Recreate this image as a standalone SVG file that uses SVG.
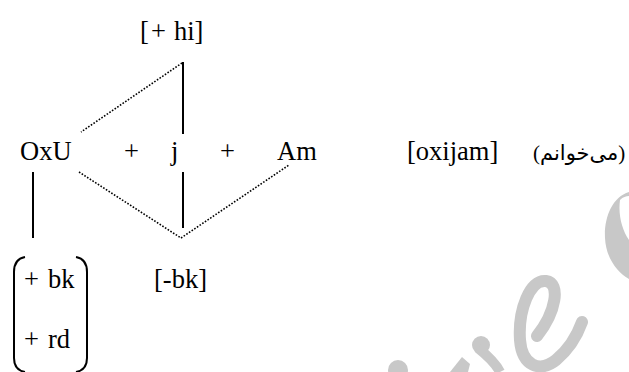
<svg xmlns="http://www.w3.org/2000/svg" width="629" height="372" viewBox="0 0 629 372">
<style>
.ln{stroke:#000;stroke-width:2;fill:none}
.dt{stroke:#000;stroke-width:1.6;fill:none;stroke-dasharray:1.6 1.6}
</style>
<rect width="629" height="372" fill="#fff"/>
<g id="watermark" fill="#c8c8c8">
<path d="M629,192 C612,197 604,218 605,238 C606,258 617,272 629,279 L629,240 C622,230 618,215 620,200 C623,197 626,196 629,196 Z"/>
<path d="M537,336 C556,312 561,283 546,281 C530,279 518,310 520,340 C522,366 540,373 556,360 C568,350 577,336 582,322" fill="none" stroke="#c8c8c8" stroke-width="12" stroke-linecap="round"/>
<circle cx="481" cy="345" r="9"/>
<path d="M478,348 C488,356 496,364 500,372" fill="none" stroke="#c8c8c8" stroke-width="10"/>
<polygon points="450,372 462,357 470,364 468,372"/>
<circle cx="398" cy="370" r="10"/>
</g>
<g id="connectors">
<line class="ln" x1="183" y1="62" x2="183" y2="134"/>
<line class="ln" x1="183" y1="172" x2="183" y2="228"/>
<line class="ln" x1="33" y1="172" x2="33" y2="238"/>
<line class="dt" x1="182" y1="63" x2="81" y2="132"/>
<line class="dt" x1="79" y1="172" x2="181" y2="238"/>
<line class="dt" x1="181" y1="238" x2="289" y2="165"/>
</g>
<g id="node-hi"><text x="140" y="40" font-family="Liberation Serif, serif" font-size="26.5">[<tspan x="151">+</tspan><tspan x="174">hi]</tspan></text></g>
<g id="node-OxU"><text x="20" y="160" font-family="Liberation Serif, serif" font-size="26.5">OxU</text></g>
<g id="plus1"><text x="124" y="160" font-family="Liberation Serif, serif" font-size="26.5">+</text></g>
<g id="node-j"><text x="171" y="160" font-family="Liberation Serif, serif" font-size="26.5">j</text></g>
<g id="plus2"><text x="220" y="160" font-family="Liberation Serif, serif" font-size="26.5">+</text></g>
<g id="node-Am"><text x="277" y="160" font-family="Liberation Serif, serif" font-size="26.5">Am</text></g>
<g id="node-oxijam"><text x="407" y="160" font-family="Liberation Serif, serif" font-size="26.5">[oxijam]</text></g>
<g id="node-fa"><text x="533" y="160" font-family="Liberation Serif, DejaVu Sans, serif" font-size="21">(می‌خوانم)</text></g>
<g id="node-matrix">
<path class="ln" d="M25,257 Q14,259 14,272 V358 Q14,370 25,372"/>
<path class="ln" d="M76,257 Q87,259 87,272 V358 Q87,370 76,372"/>
<text x="24" y="288" font-family="Liberation Serif, serif" font-size="26.5">+<tspan x="48">bk</tspan></text>
<text x="24" y="348" font-family="Liberation Serif, serif" font-size="26.5">+<tspan x="48">rd</tspan></text>
</g>
<g id="node-bk"><text x="154" y="288" font-family="Liberation Serif, serif" font-size="26.5">[-bk]</text></g>
</svg>
